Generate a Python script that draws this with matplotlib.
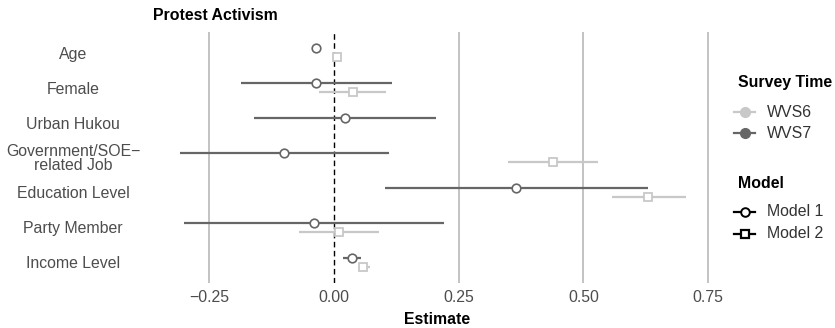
import numpy as np
import matplotlib.pyplot as plt
from matplotlib.lines import Line2D

plt.rcParams['font.family'] = ['Liberation Sans', 'DejaVu Sans']

# Data - - - - - - - - - - - - - - - - - - -
categories = ['Age', 'Female', 'Urban Hukou', 'Government/SOE\u2212\nrelated Job',
              'Education Level', 'Party Member', 'Income Level']

# Model 1 (WVS7)
m1_est = [-0.036, -0.036, 0.022, -0.100, 0.365, -0.040, 0.036]
m1_lo = [-0.040, -0.186, -0.160, -0.309, 0.102, -0.300, 0.018]
m1_hi = [-0.032, 0.116, 0.205, 0.110, 0.629, 0.220, 0.054]

# Model 2 (WVS6)
m2_est = [0.006, 0.038, np.nan, 0.439, 0.630, 0.010, 0.058]
m2_lo = [0.003, -0.030, np.nan, 0.349, 0.557, -0.070, 0.048]
m2_hi = [0.009, 0.105, np.nan, 0.530, 0.705, 0.090, 0.072]

xticks = [-0.25, 0.00, 0.25, 0.50, 0.75]
xticklabels = ['\u22120.25', '0.00', '0.25', '0.50', '0.75']

c7 = '#666666'
c6 = '#c8c8c8'
txt = '#4d4d4d'
fs = 11.4

W, H = 835, 328
fig = plt.figure(figsize=(W/100, H/100), dpi=100)
ax = fig.add_axes([153/W, 1-283/H, (722-153)/W, (283-32)/H])

ypos = np.arange(len(categories))
dodge = 0.13

# gridlines
for xt in xticks:
    if xt != 0:
        ax.axvline(xt, color='#b3b3b3', lw=1.1, zorder=0)
ax.axvline(0, color='black', lw=1.0, ls=(0, (4, 2.5)), zorder=1)

# Model 1 / WVS7
for i in range(len(categories)):
    y = ypos[i] - dodge
    ax.plot([m1_lo[i], m1_hi[i]], [y, y], color=c7, lw=1.6, solid_capstyle='butt', zorder=2)
ax.plot(m1_est, ypos - dodge, 'o', ms=6.2, mfc='white', mec=c7, mew=1.2, zorder=3)

# Model 2 / WVS6
for i in range(len(categories)):
    if np.isnan(m2_est[i]):
        continue
    y = ypos[i] + dodge
    ax.plot([m2_lo[i], m2_hi[i]], [y, y], color=c6, lw=1.6, solid_capstyle='butt', zorder=2)
ax.plot(m2_est, ypos + dodge, 's', ms=5.2, mfc='white', mec=c6, mew=1.3, zorder=3)

ax.set_xlim(-0.363, 0.778)
ax.set_ylim(len(categories) - 1 + 0.6, -0.6)
ax.set_yticks(ypos)
ax.set_yticklabels(categories, fontsize=fs, color=txt, linespacing=0.95)
for lab in ax.get_yticklabels():
    lab.set_horizontalalignment('center')
ax.tick_params(axis='y', length=0, pad=57.6)
ax.set_xticks(xticks)
ax.set_xticklabels(xticklabels, fontsize=fs, color=txt)
ax.tick_params(axis='x', length=0, pad=5)
for s in ax.spines.values():
    s.set_visible(False)

ax.set_xlabel('Estimate', fontsize=fs, fontweight='bold', labelpad=5)
ax.set_title('Protest Activism', fontsize=fs, fontweight='bold', loc='left', pad=9)

# Legends (drawn by hand to match spacing)
def fx(px):
    return px / W

def fy(py):
    return 1 - py / H

def legend_key(y, color, marker, mfc, ms, mew):
    fig.add_artist(Line2D([fx(734), fx(755)], [fy(y), fy(y)], transform=fig.transFigure,
                          color=color, lw=1.6))
    fig.add_artist(Line2D([fx(744.5)], [fy(y)], transform=fig.transFigure, ls='none',
                          marker=marker, ms=ms, mfc=mfc, mec=color, mew=mew))

fig.text(fx(738), fy(83), 'Survey Time', fontsize=fs, fontweight='bold', va='center', ha='left')
legend_key(112, c6, 'o', c6, 7, 1)
legend_key(133, c7, 'o', c7, 7, 1)
fig.text(fx(767), fy(112), 'WVS6', fontsize=fs, color='#333333', va='center')
fig.text(fx(767), fy(133), 'WVS7', fontsize=fs, color='#333333', va='center')

fig.text(fx(738), fy(183), 'Model', fontsize=fs, fontweight='bold', va='center', ha='left')
legend_key(212, 'black', 'o', 'white', 6.2, 1.4)
legend_key(234, 'black', 's', 'white', 5.6, 1.6)
fig.text(fx(767), fy(212), 'Model 1', fontsize=fs, color='#333333', va='center')
fig.text(fx(767), fy(234), 'Model 2', fontsize=fs, color='#333333', va='center')

fig.savefig('out.png', dpi=100)
